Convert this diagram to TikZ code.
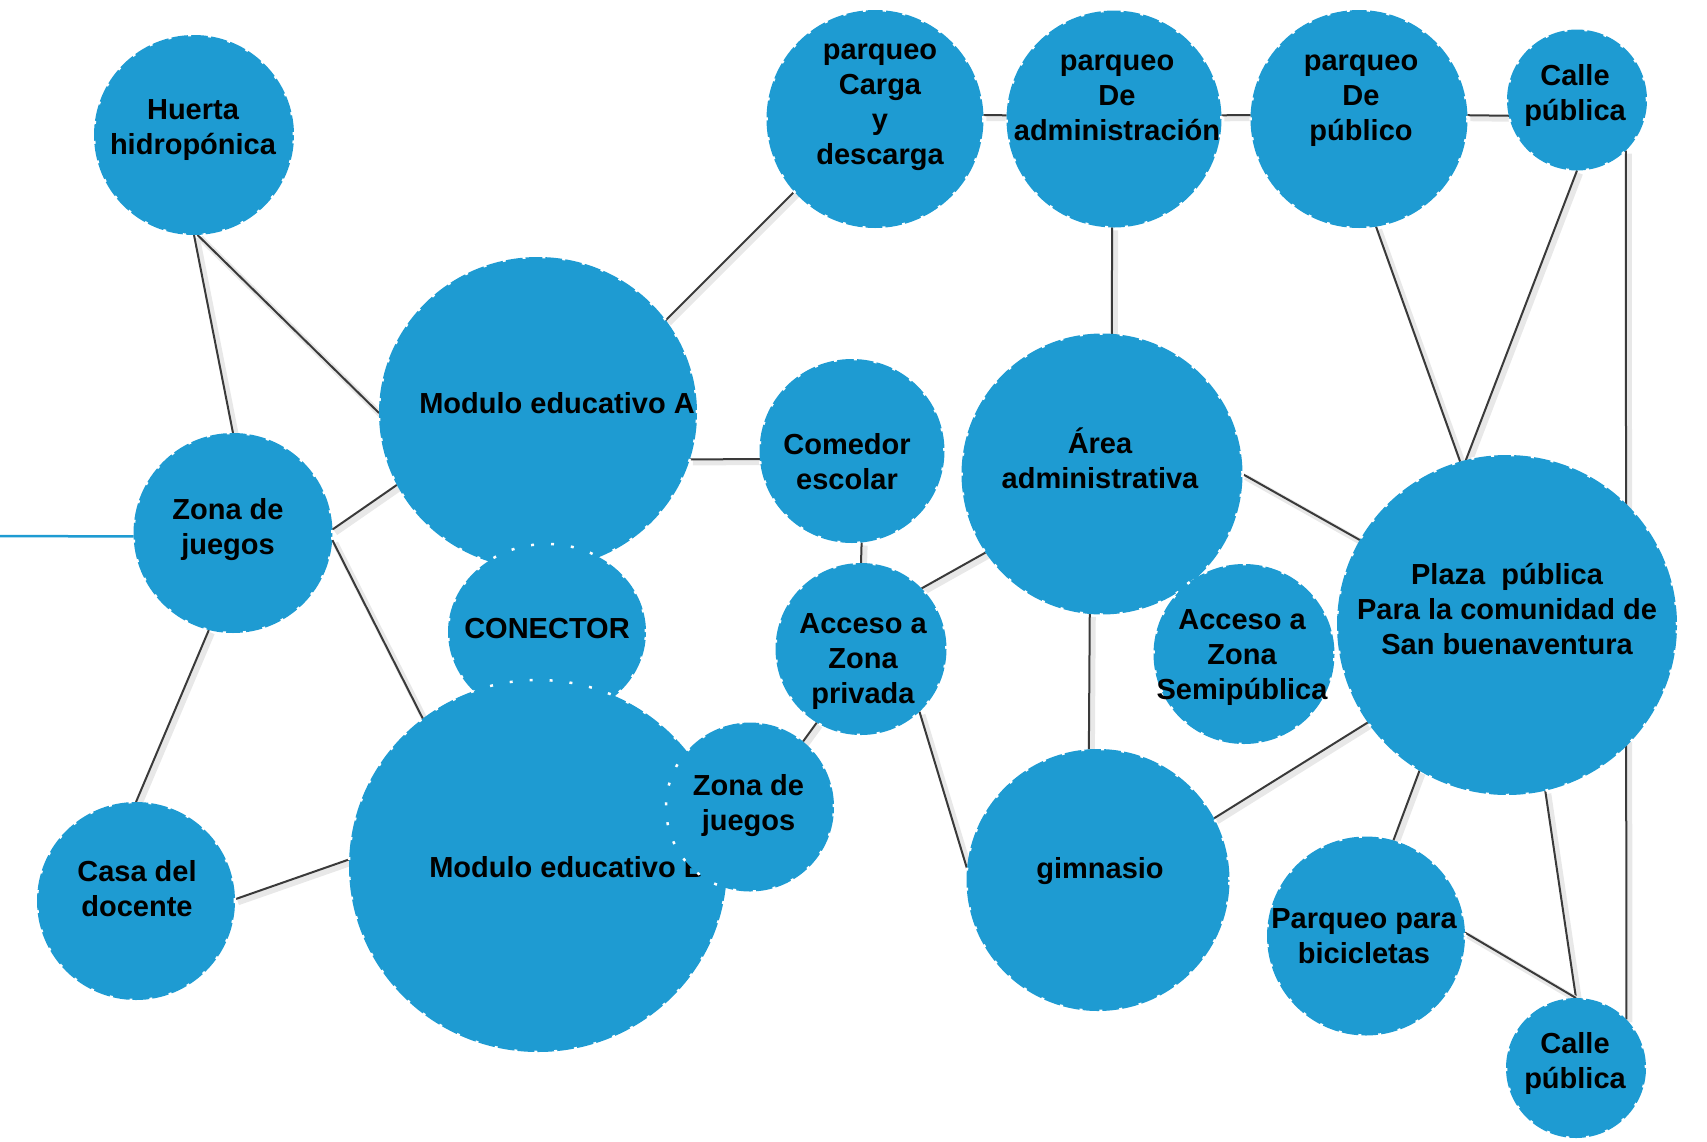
\documentclass[tikz,border=0pt]{standalone}
\usepackage{fontspec}
\setmainfont{Liberation Sans}
\usetikzlibrary{shapes.geometric}
\definecolor{bub}{RGB}{30,155,210}
\definecolor{lnk}{RGB}{58,58,58}
\pgfdeclarelayer{bg}
\pgfsetlayers{bg,main}
\tikzset{
  bubble/.style n args={2}{ellipse, fill=bub, draw=white, line width=2.5pt,
    dash pattern=on 3pt off 17pt, minimum width=#1pt, minimum height=#2pt,
    inner sep=0pt, outer sep=0pt},
  lbl/.style={align=center, font=\fontsize{29}{35}\selectfont\bfseries, text=black, inner sep=0pt},
  link/.style={draw=lnk, line width=2pt},
  linkshade/.style={draw=black!9, line width=6pt, transform canvas={xshift=3pt,yshift=-3pt}},
  blueline/.style={draw=bub, line width=2.5pt},
}
\begin{document}
\begin{tikzpicture}[x=1pt,y=-1pt]
\useasboundingbox (0,0) rectangle (1707,1141);

% bubbles and their labels (drawing order matters for overlaps)
\node[bubble={200}{200}] (huerta) at (194,135) {};
\node[lbl] (tHuerta) at (193,129.5) {Huerta\strut\\hidropónica\strut};

\node[bubble={217}{218}] (carga) at (875,119) {};
\node[lbl] (tCarga) at (880,104.5) {parqueo\strut\\Carga\strut\\y\strut\\descarga\strut};

\node[bubble={215}{217}] (padm) at (1114,119) {};
\node[lbl] (tPadm) at (1117,98) {parqueo\strut\\De\strut\\administración\strut};

\node[bubble={217}{218}] (ppub) at (1359,119) {};
\node[lbl] (tPpub) at (1361,98) {parqueo\strut\\De\strut\\público\strut};

\node[bubble={140}{141}] (calleT) at (1577,100) {};
\node[lbl] (tCalleT) at (1575,95.5) {Calle\strut\\pública\strut};

\node[bubble={318}{312}] (modA) at (538,413) {};
\node[lbl] (tModA) at (557,406) {Modulo educativo A\strut};

\node[bubble={198}{176}] (conector) at (547,632) {};
\node[lbl] (tConector) at (547,631) {CONECTOR\strut};

\node[bubble={378}{372}] (modB) at (538,866) {};
\node[lbl] (tModB) at (567,870) {Modulo educativo B\strut};

\node[bubble={168}{169}] (zonaR) at (750,807) {};
\node[lbl] (tZonaR) at (748.5,805.5) {Zona de\strut\\juegos\strut};

\node[bubble={199}{200}] (zonaL) at (233,533) {};
\node[lbl] (tZonaL) at (228,529.5) {Zona de\strut\\juegos\strut};

\node[bubble={198}{198}] (casa) at (136,901) {};
\node[lbl] (tCasa) at (137,891.5) {Casa del\strut\\docente\strut};

\node[bubble={185}{184}] (comedor) at (852,451) {};
\node[lbl] (tComedor) at (847,464.5) {Comedor\strut\\escolar\strut};

\node[bubble={171}{172}] (accP) at (861,649) {};
\node[lbl] (tAccP) at (863,661) {Acceso a\strut\\Zona\strut\\privada\strut};

\node[bubble={281}{281}] (areaA) at (1102,474) {};
\node[lbl] (tAreaA) at (1100,463.5) {Área\strut\\administrativa\strut};

\node[bubble={181}{180}] (accS) at (1244,654) {};
\node[lbl] (tAccS) at (1242,657) {Acceso a\strut\\Zona\strut\\Semipública\strut};

\node[bubble={263}{262}] (gim) at (1098,880) {};
\node[lbl] (tGim) at (1100,871) {gimnasio\strut};

\node[bubble={340}{340}] (plaza) at (1507,625) {};
\node[lbl] (tPlaza) at (1507,612) {Plaza\ \ pública\strut\\Para la comunidad de\strut\\San buenaventura\strut};

\node[bubble={198}{199}] (bici) at (1366,936) {};
\node[lbl] (tBici) at (1364,938.5) {Parqueo para\strut\\bicicletas\strut};

\node[bubble={140}{140}] (calleB) at (1576,1068) {};
\node[lbl] (tCalleB) at (1575,1063.5) {Calle\strut\\pública\strut};

\coordinate (leftend) at (0,536);

% connectors behind the bubbles
\begin{pgfonlayer}{bg}
\foreach \a/\b in {huerta.-90/zonaL.90, huerta.-88/modA.180, zonaL.2/modA.207,
  zonaL.-4/modB.128, zonaL.-104/casa.90, casa.1/modB.178, modA.36/carga.222,
  modA.-17/comedor.185, carga.2/padm.178, padm.2/ppub.178, ppub.2/calleT.193,
  padm.-91/areaA.86, comedor.-84/accP.90, accP.45/areaA.214, accP.239/zonaR.51,
  accP.-47/gim.175, areaA.-95/gim.94, areaA.0/plaza.150, ppub.-81/plaza.106,
  calleT.-90/plaza.104, calleT.-46/calleB.44, gim.28/plaza.215, plaza.239/bici.74,
  plaza.-77/calleB.90, bici.2/calleB.90}{
  \draw[linkshade] (\a) -- (\b);
  \draw[link] (\a) -- (\b);
}
\draw[blueline] (leftend) -- (zonaL.182);
\end{pgfonlayer}
\end{tikzpicture}
\end{document}
